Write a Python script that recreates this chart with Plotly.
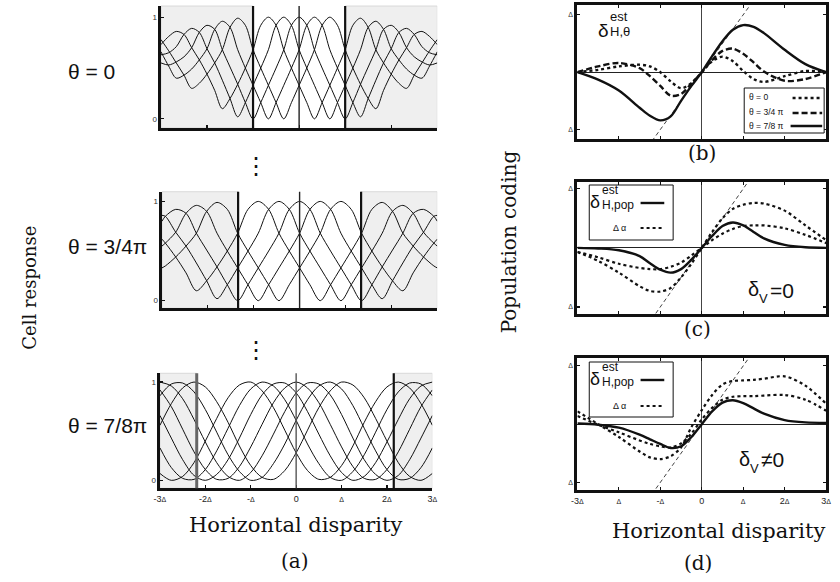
import plotly.graph_objects as go

W, H = 840, 582
SANS = "Liberation Sans, Arial, sans-serif"
SERIF = "DejaVu Serif, serif"

# ---------------- panel (a): cell responses ----------------
# theta = 0
a1_x = [-3.0, -2.833, -2.667, -2.5, -2.333, -2.167, -2.0, -1.833, -1.667, -1.5, -1.333, -1.167,
        -1.0, -0.833, -0.667, -0.5, -0.333, -0.167, 0.0, 0.167, 0.333, 0.5, 0.667, 0.833,
        1.0, 1.167, 1.333, 1.5, 1.667, 1.833, 2.0, 2.167, 2.333, 2.5, 2.667, 2.833, 3.0]
a1_r0 = [.55, .53, .56, .61, .70, .85, .92, .88, .68, .51, .34, .16, 0, .16, .33, .50, .68, .92, 1,
         .92, .68, .50, .33, .16, 0, .16, .34, .51, .68, .88, .92, .85, .70, .61, .56, .53, .55]
a1_rp1 = [.66, .52, .40, .43, .49, .58, .69, .88, .96, .90, .68, .50, .33, .16, 0, .16, .33, .50, .68,
          .92, 1, .92, .68, .50, .33, .16, .02, .20, .38, .55, .69, .85, .89, .83, .71, .65, .63]
a1_rm1 = [.63, .65, .71, .83, .89, .85, .69, .55, .38, .20, .02, .16, .33, .50, .68, .92, 1, .92, .68,
          .50, .33, .16, 0, .16, .33, .50, .68, .90, .96, .88, .69, .58, .49, .43, .40, .52, .66]
a1_rp2 = [.78, .67, .55, .43, .30, .35, .44, .55, .68, .90, .99, .92, .68, .50, .33, .16, 0, .16, .33,
          .50, .68, .92, 1, .92, .68, .50, .34, .20, .10, .28, .44, .58, .70, .83, .86, .81, .73]
a1_rm2 = [.73, .81, .86, .83, .70, .58, .44, .28, .10, .20, .34, .50, .68, .92, 1, .92, .68, .50, .33,
          .16, 0, .16, .33, .50, .68, .92, .99, .90, .68, .55, .44, .35, .30, .43, .55, .67, .78]

# theta = 3/4 pi
a2_x = [-3.0, -2.925, -2.7, -2.475, -2.25, -2.025, -1.8, -1.575, -1.35, -1.125, -0.9, -0.675, -0.45,
        -0.225, 0.0, 0.225, 0.45, 0.675, 0.9, 1.125, 1.35, 1.575, 1.8, 2.025, 2.25, 2.475, 2.7, 2.925, 3.0]
a2_r0 = [.80, .85, .92, .88, .68, .51, .34, .16, 0, .16, .33, .50, .68, .92, 1,
         .92, .68, .50, .33, .16, 0, .16, .34, .51, .68, .88, .92, .85, .80]
a2_rp1 = [.55, .58, .69, .88, .96, .90, .68, .50, .33, .16, 0, .16, .33, .50, .68,
          .92, 1, .92, .68, .50, .33, .16, .02, .20, .38, .55, .69, .85, .86]
a2_rm1 = [.86, .85, .69, .55, .38, .20, .02, .16, .33, .50, .68, .92, 1, .92, .68,
          .50, .33, .16, 0, .16, .33, .50, .68, .90, .96, .88, .69, .58, .55]
a2_rp2 = [.33, .35, .44, .55, .68, .90, .99, .92, .68, .50, .33, .16, 0, .16, .33,
          .50, .68, .92, 1, .92, .68, .50, .34, .20, .10, .28, .44, .58, .62]
a2_rm2 = [.62, .58, .44, .28, .10, .20, .34, .50, .68, .92, 1, .92, .68, .50, .33,
          .16, 0, .16, .33, .50, .68, .92, .99, .90, .68, .55, .44, .35, .33]

# theta = 7/8 pi
a3_x = [-3.0, -2.75, -2.5, -2.25, -2.0, -1.75, -1.5, -1.25, -1.0, -0.75, -0.5, -0.25, 0.0,
        0.25, 0.5, 0.75, 1.0, 1.25, 1.5, 1.75, 2.0, 2.25, 2.5, 2.75, 3.0]
a3_r0 = [.92, .75, .52, .29, .11, .01, .02, .14, .34, .57, .79, .94, 1.0,
         .94, .79, .57, .34, .14, .02, .01, .11, .29, .52, .75, .92]
a3_rp1 = [1.0, .96, .83, .62, .39, .18, .04, 0, .08, .25, .47, .70, .89,
          .99, .98, .87, .67, .43, .21, .06, 0, .05, .21, .43, .66]
a3_rm1 = [.66, .43, .21, .05, 0, .06, .21, .43, .67, .87, .98, .99, .89,
          .70, .47, .25, .08, 0, .04, .18, .39, .62, .83, .96, 1.0]
a3_rp2 = [.86, .98, .99, .90, .72, .49, .26, .09, 0, .03, .17, .37, .61,
          .82, .96, 1.0, .93, .76, .53, .30, .11, .01, .02, .13, .33]
a3_rm2 = [.33, .13, .02, .01, .11, .30, .53, .76, .93, 1.0, .96, .82, .61,
          .37, .17, .03, 0, .09, .26, .49, .72, .90, .99, .98, .86]
a3_rp3 = [.56, .78, .94, 1.0, .95, .80, .59, .35, .15, .03, .01, .10, .28,
          .51, .74, .91, 1.0, .97, .84, .63, .40, .18, .04, 0, .07]
a3_rm3 = [.07, 0, .04, .18, .40, .63, .84, .97, 1.0, .91, .74, .51, .28,
          .10, .01, .03, .15, .35, .59, .80, .95, 1.0, .94, .78, .56]

# limits of the white (reliable) region for each theta
a_lo = [-1.0, -1.34, -2.19]
a_hi = [1.0, 1.34, 2.15]

a_ticks = [-3, -2, -1, 0, 1, 2, 3]
a_ticktext = ["-3", "-2", "-", "0", "", "2", "3"]

# ---------------- panels (b)-(d): population coding ----------------
r_x = [-3, -2.5, -2, -1.5, -1.25, -1, -0.75, -0.5, -0.25, 0, 0.25, 0.5, 0.75, 1, 1.25, 1.5, 2, 2.5, 3]
b_theta0 = [0, .04, .10, .13, .10, 0, -.16, -.28, -.19, 0, .19, .27, .19, .02, -.12, -.17, -.07, .02, 0]
b_theta34 = [0, .10, .16, .07, -.07, -.24, -.41, -.38, -.20, 0, .21, .37, .41, .32, .17, .01, -.15, -.12, 0]
b_theta78 = [0, -.13, -.32, -.62, -.76, -.84, -.77, -.50, -.24, 0, .28, .54, .74, .82, .79, .68, .39, .14, 0]

c_pop = [0, -.01, -.04, -.14, -.26, -.37, -.42, -.36, -.20, 0, .20, .37, .43, .38, .27, .16, .05, .01, 0]
c_alpha1 = [-.07, -.22, -.42, -.65, -.73, -.74, -.68, -.50, -.27, 0, .27, .50, .66, .73, .76, .75, .63, .38, .13]
c_alpha2 = [-.07, -.16, -.27, -.34, -.36, -.36, -.32, -.25, -.13, 0, .13, .24, .32, .37, .38, .38, .33, .22, .08]

d_pop = [.01, -.01, -.06, -.18, -.26, -.34, -.41, -.38, -.22, 0, .22, .37, .41, .36, .27, .18, .07, .03, .02]
d_alpha1 = [.22, 0, -.22, -.47, -.57, -.60, -.55, -.40, -.05, .24, .50, .68, .74, .75, .76, .78, .82, .66, .35]
d_alpha2 = [.14, -.01, -.14, -.28, -.34, -.38, -.40, -.33, -.16, .08, .28, .42, .47, .48, .48, .49, .50, .42, .23]

ident = [-1.4, 1.4]
r_ticks = [-3, -2, -1, 0, 1, 2, 3]
r_ticktext = ["-3", "", "-", "0", "", "2", "3"]

# ---------------- figure ----------------
def px(v):
    return v / W


def py(v):
    return 1 - v / H


SMALL_D = "<span style='font-size:7px'>\u0394</span>"


def dtick(prefix):
    return "0" if prefix == "0" else prefix + SMALL_D


fig = go.Figure()


def add_line(x, y, ax, width=1.0, dash="solid", color="#111"):
    xa = "x" if ax == 1 else "x%d" % ax
    ya = "y" if ax == 1 else "y%d" % ax
    fig.add_trace(go.Scatter(x=x, y=y, xaxis=xa, yaxis=ya, mode="lines",
                             line=dict(color=color, width=width, dash=dash, shape="spline", smoothing=0.9),
                             showlegend=False, hoverinfo="skip"))


for yv in [a1_r0, a1_rp1, a1_rm1, a1_rp2, a1_rm2]:
    add_line(a1_x, yv, 1, 1.0)
for yv in [a2_r0, a2_rp1, a2_rm1, a2_rp2, a2_rm2]:
    add_line(a2_x, yv, 2, 1.0)
for yv in [a3_r0, a3_rp1, a3_rm1, a3_rp2, a3_rm2, a3_rp3, a3_rm3]:
    add_line(a3_x, yv, 3, 1.0)

# (b)
add_line(ident, ident, 4, 0.8, "4px,3px")
add_line(r_x, b_theta0, 4, 2.4, "dot")
add_line(r_x, b_theta34, 4, 2.4, "6px,3px")
add_line(r_x, b_theta78, 4, 2.4, "solid")
# (c)
add_line(ident, ident, 5, 0.8, "4px,3px")
add_line(r_x, c_alpha1, 5, 2.2, "dot")
add_line(r_x, c_alpha2, 5, 2.2, "dot")
add_line(r_x, c_pop, 5, 2.4, "solid")
# (d)
add_line(ident, ident, 6, 0.8, "4px,3px")
add_line(r_x, d_alpha1, 6, 2.2, "dot")
add_line(r_x, d_alpha2, 6, 2.2, "dot")
add_line(r_x, d_pop, 6, 2.4, "solid")

tickfont_small = dict(family=SANS, size=8, color="#333")

a_xlabels = [dtick(t) for t in a_ticktext]
r_xlabels = [dtick(t) for t in r_ticktext]

layout = dict(width=W, height=H, margin=dict(l=0, r=0, t=0, b=0),
              paper_bgcolor="white", plot_bgcolor="white", showlegend=False)

a_dom_x = [(157, 437), (158, 437), (156, 432)]
a_dom_y = [(6, 128), (191.7, 308.3), (373.3, 488.3)]
a_yr = [(-0.09, 1.11), (-0.077, 1.098), (-0.081, 1.089)]

for i in range(3):
    n = i + 1
    xk = "xaxis" if n == 1 else "xaxis%d" % n
    yk = "yaxis" if n == 1 else "yaxis%d" % n
    layout[xk] = dict(domain=[px(a_dom_x[i][0]), px(a_dom_x[i][1])], range=[-3, 3],
                      anchor="y" if n == 1 else "y%d" % n,
                      showgrid=False, zeroline=False, showline=True, linewidth=2.5, linecolor="#111",
                      ticks="inside", ticklen=3, tickwidth=1.2, tickcolor="#111",
                      tickvals=a_ticks, ticktext=a_xlabels,
                      showticklabels=(n == 3), tickfont=dict(family=SANS, size=9, color="#222"))
    layout[yk] = dict(domain=[py(a_dom_y[i][1]), py(a_dom_y[i][0])], range=list(a_yr[i]),
                      anchor="x" if n == 1 else "x%d" % n,
                      showgrid=False, zeroline=False, showline=True, linewidth=2.5, linecolor="#111",
                      ticks="inside", ticklen=3, tickwidth=1.2, tickcolor="#111",
                      tickvals=[0, 1], ticktext=["0", "1"], tickfont=tickfont_small)

r_dom_y = [(5, 139.3), (181.7, 314), (358.3, 490)]
r_yr = [(-1.17, 1.17), (-1.12, 1.12), (-1.13, 1.13)]
for i in range(3):
    n = i + 4
    layout["xaxis%d" % n] = dict(domain=[px(579), px(831)], range=[-3, 3], anchor="y%d" % n,
                                 showgrid=False, zeroline=True, zerolinecolor="#444", zerolinewidth=1,
                                 showline=True, mirror="ticks", linewidth=3, linecolor="#111",
                                 ticks="inside", ticklen=3, tickwidth=1.2, tickcolor="#111",
                                 tickvals=r_ticks, ticktext=r_xlabels, showticklabels=(n == 6),
                                 tickfont=dict(family=SANS, size=9, color="#222"))
    layout["yaxis%d" % n] = dict(domain=[py(r_dom_y[i][1]), py(r_dom_y[i][0])], range=list(r_yr[i]),
                                 anchor="x%d" % n, showgrid=False,
                                 zeroline=True, zerolinecolor="#222", zerolinewidth=1,
                                 showline=True, mirror="ticks", linewidth=3, linecolor="#111",
                                 ticks="inside", ticklen=3, tickwidth=1.2, tickcolor="#111",
                                 tickvals=[-1, 1], ticktext=["\u0394", "\u0394"],
                                 tickfont=dict(family=SANS, size=7, color="#333"))

shapes = []
for i in range(3):
    n = i + 1
    xr = "x" if n == 1 else "x%d" % n
    yr = "y domain" if n == 1 else "y%d domain" % n
    for x0, x1 in [(-3, a_lo[i]), (a_hi[i], 3)]:
        shapes.append(dict(type="rect", xref=xr, yref=yr, x0=x0, x1=x1, y0=0, y1=1,
                           fillcolor="#efefef", line=dict(color="#d2d2d2", width=0.8), layer="below"))
    lc = "#666" if n == 3 else "#111"
    lw = 3 if n == 3 else 2.2
    shapes.append(dict(type="line", xref=xr, yref=yr, x0=a_lo[i], x1=a_lo[i], y0=0, y1=1,
                       line=dict(color=lc, width=lw), layer="above"))
    shapes.append(dict(type="line", xref=xr, yref=yr, x0=a_hi[i], x1=a_hi[i], y0=0, y1=1,
                       line=dict(color="#111", width=2.2), layer="above"))
    shapes.append(dict(type="line", xref=xr, yref=yr, x0=0, x1=0, y0=0, y1=1,
                       line=dict(color="#555" if n == 3 else "#222", width=1.4), layer="above"))


def pline(x0, x1, yv, dash="solid", width=2.4):
    shapes.append(dict(type="line", xref="paper", yref="paper", x0=px(x0), x1=px(x1), y0=py(yv), y1=py(yv),
                       line=dict(color="#111", width=width, dash=dash)))


def prect(x0, x1, y0, y1):
    shapes.append(dict(type="rect", xref="paper", yref="paper", x0=px(x0), x1=px(x1), y0=py(y1), y1=py(y0),
                       fillcolor="white", line=dict(color="#111", width=1)))


# legend (b)
prect(748, 829, 88, 133)
pline(797, 827, 98, "dot", 2.4)
pline(797, 827, 113, "6px,3px", 2.4)
pline(795, 827, 126, "solid", 2.4)
# legend (c)
prect(591, 676, 185, 240)
pline(643, 667, 203, "solid", 2.4)
pline(643, 667, 228, "dot", 2.2)
# legend (d)
prect(591, 676, 362, 417)
pline(643, 667, 380, "solid", 2.4)
pline(643, 667, 406, "dot", 2.2)

annotations = []


def ann(text, x, y, size, family=SANS, xanchor="center", angle=0, color="#111"):
    annotations.append(dict(text=text, x=px(x), y=py(y), xref="paper", yref="paper", showarrow=False,
                            font=dict(size=size, family=family, color=color), borderpad=0,
                            xanchor=xanchor, yanchor="middle", textangle=angle))


ann("\u03b8 = 0", 62, 71, 21, xanchor="left")
ann("\u03b8 = 3/4\u03c0", 62, 246, 21, xanchor="left")
ann("\u03b8 = 7/8\u03c0", 62, 425, 21, xanchor="left")
ann("Cell response", 23, 288, 18, SERIF, angle=-90)
ann("\u22ee", 253, 166, 24, "DejaVu Sans")
ann("\u22ee", 253, 350, 24, "DejaVu Sans")
ann("Horizontal disparity", 293, 525, 21, SERIF)
ann("(a)", 293, 561, 20, SERIF)
ann("Population coding", 510, 242, 20, SERIF, angle=-90)
ann("(b)", 705, 153, 20, SERIF)
ann("(c)", 701, 329, 20, SERIF)
ann("Horizontal disparity", 722, 531, 21, SERIF)
ann("(d)", 701, 563, 20, SERIF)

# (b) label and legend texts
ann("\u03b4", 605, 30, 19)
ann("est", 611, 16, 13, xanchor="left")
ann("H,\u03b8", 611, 31, 13, xanchor="left")
ann("\u03b8 = 0", 752, 97, 8.5, xanchor="left")
ann("\u03b8 = 3/4 \u03c0", 752, 112, 8.5, xanchor="left")
ann("\u03b8 = 7/8 \u03c0", 752, 126, 8.5, xanchor="left")
# (c)
ann("\u03b4", 597, 202, 18)
ann("est", 603, 190, 12, xanchor="left")
ann("H,pop", 603, 205, 12, xanchor="left")
ann("\u0394 \u03b1", 622, 228, 9)
ann("\u03b4", 757, 289, 20)
ann("V", 762, 298, 13, xanchor="left")
ann("=0", 773, 290, 21, xanchor="left")
# (d)
ann("\u03b4", 597, 379, 18)
ann("est", 603, 367, 12, xanchor="left")
ann("H,pop", 603, 382, 12, xanchor="left")
ann("\u0394 \u03b1", 622, 406, 9)
ann("\u03b4", 748, 459, 20)
ann("V", 753, 468, 13, xanchor="left")
ann("\u22600", 764, 459, 21, xanchor="left")

layout["shapes"] = shapes
layout["annotations"] = annotations
fig.update_layout(**layout)
fig.write_html("out.html", config={"displayModeBar": False, "staticPlot": True},
               post_script="document.body.style.margin='0';document.body.style.overflow='hidden';")
